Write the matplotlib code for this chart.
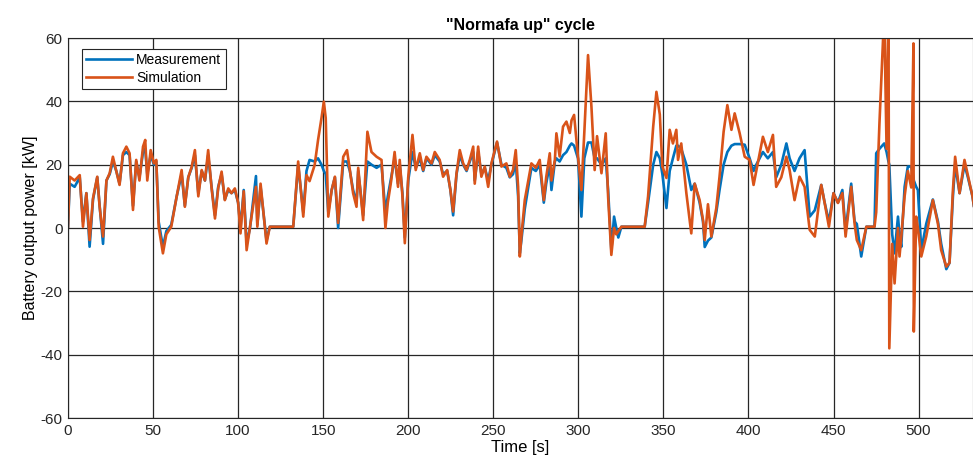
import numpy as np
import matplotlib.pyplot as plt

plt.rcParams['font.family'] = ['Liberation Sans', 'DejaVu Sans']
plt.rcParams['axes.unicode_minus'] = False

# time [s] and battery output power [kW]
time_s = [0, 1, 3.9, 6.9, 8.8, 10.8, 12.7, 14.7, 17.2, 18.6,
          20.6, 22.6, 24.5, 26.4, 28.4, 30.3, 32.3, 34.3, 36.2, 38.2,
          40.1, 42, 44.1, 45.4, 46.6, 48.6, 50.5, 51.9, 53.3, 55.8,
          57.8, 60.7, 63.9, 66.8, 68.7, 70.7, 72.7, 74.6, 76.6, 78.6,
          80.5, 82.4, 84.4, 86.4, 88.3, 90.3, 92.2, 94.2, 96.1, 98.1,
          100, 101.4, 103.3, 105, 107, 110.5, 111.3, 113.2, 116.7, 118.6,
          132.4, 135.3, 138.3, 140.2, 142, 145, 147, 149, 150.4, 151.5,
          153, 155, 156.9, 158.8, 161.8, 164, 165.7, 167.6, 169.6, 170.6,
          173.5, 176, 178.4, 181.4, 184.3, 186.6, 188, 190, 192, 194,
          195, 196.6, 198, 200, 202.5, 204.4, 206.8, 208.8, 210.7, 213.7,
          215.6, 218.5, 220.5, 222.9, 224.8, 226.4, 228.4, 230.3, 232.3, 234.3,
          236.2, 238.2, 239.1, 241.1, 243, 245, 247, 248.9, 252.2, 254.8,
          257.7, 259.7, 261.6, 263.2, 264.6, 265.6, 266.5, 268.5, 272.4, 275,
          277.3, 279.7, 281.1, 283.2, 284.2, 286.2, 287.1, 289, 291, 293,
          295, 296, 297.5, 299.8, 301.8, 303.5, 305.7, 307.7, 309.6, 311,
          313.6, 316.1, 317.5, 319.4, 321, 322.3, 323.5, 325.3, 339, 341,
          344, 345.9, 347.9, 349.4, 351.8, 353.7, 355.6, 357.6, 358.6, 360.5,
          363.5, 366.4, 368.4, 371.3, 373.3, 374.3, 376.2, 378.2, 381.1, 383,
          385.4, 387.6, 390, 391.9, 394.8, 397.8, 400.7, 403, 404.6, 408.5,
          411.4, 414.4, 416.3, 419.3, 422.3, 424.2, 427.1, 430, 433, 436,
          439, 442.8, 444.8, 447.3, 450, 452.6, 455.2, 457.1, 460.4, 462.4,
          463.7, 466.3, 469.3, 474.1, 475.1, 477, 479.8, 481.2, 482.3, 482.8,
          484.5, 485.9, 487.9, 488.8, 489.8, 491.8, 493.7, 495.7, 497, 497.2,
          498.6, 499.6, 501.6, 504.5, 508.4, 511.4, 513.3, 516.3, 518.2, 520.2,
          521.5, 524.1, 527, 529, 531.7, 532.5]

simulation = [0.4, 16.2, 15, 16.7, 0.4, 11, -3.8, 9.4, 16.2, 6.7,
              -2.7, 15, 17.3, 22.5, 18, 13.6, 23.6, 25.7, 23.6, 5.7,
              21.5, 15, 25.7, 27.8, 15, 24.6, 20.4, 21.5, 0.4, -8,
              -2, 0.4, 10, 18.3, 6.7, 16, 19.3, 24.6, 10, 18.3,
              15, 24.6, 12.6, 3, 12.6, 17.8, 8.8, 12.5, 11, 12.5,
              8, -1.7, 11.6, -7, 0.4, 13, 0.4, 14, -4.9, 0.4,
              0.4, 21, 3.6, 16.7, 14.8, 19.9, 27.8, 34.7, 39.9, 34.7,
              3.6, 12, 16.2, 1.6, 22.5, 24.6, 18.3, 11, 6.7, 19,
              2.5, 30.4, 24, 22.5, 21.5, 0, 8, 15, 24, 13,
              21.5, 10, -4.8, 16, 29.4, 18.3, 23.6, 18.3, 22.5, 20.4,
              24, 21.5, 16.2, 18.3, 12, 5.2, 17.3, 24.6, 20.4, 18.3,
              21.5, 25.7, 14, 25.7, 16.2, 19.4, 13, 20.4, 27.3, 19.4,
              20.4, 16.2, 18.3, 24.6, 13, -9, -2.7, 8.8, 20.4, 19,
              21.5, 8.8, 16, 23.6, 15, 21.5, 29.9, 22.6, 32, 33.6,
              30, 34, 35.7, 22.5, 12, 30, 54.6, 38.3, 18.3, 29,
              17.3, 29.9, 9.9, -8.5, 0, -2, -1, 0.4, 0.4, 10,
              32, 43, 35.8, 19.4, 15.8, 31, 26.7, 31, 21.5, 26.7,
              11, -1.7, 14, 8.8, 2.5, -3.8, 7.5, -2.7, 6.3, 16.2,
              30.4, 38.8, 31, 36.2, 30, 22.5, 21.5, 13.6, 18, 28.8,
              24, 29.4, 13, 16, 22.5, 18.3, 8.8, 16.2, 13, -0.6,
              -2.7, 13.6, 7.9, 0.4, 11, 7.9, 11, -2.7, 13, 1.3,
              -3.8, -7, 0.4, 0.4, 5, 33, 68, 25, 72, -38,
              -5, -17.5, 0, -9, -3, 10, 18, 12.8, 58.3, -32.7,
              3.6, 0, -9, -2.7, 8.8, 1.3, -7, -12.2, -11, 12,
              22.5, 11, 21.5, 16.6, 10, 7]

measurement = [0.4, 14, 13, 16, 2, 11, -5.9, 9, 16, 7,
               -5, 15, 17, 21, 18, 14, 23, 24, 23, 7,
               21, 16, 24, 25, 17, 23, 20, 21, 2, -6,
               -1, 1, 10, 17, 7, 16, 19, 23, 11, 18,
               15, 23, 13, 4, 13, 17, 9, 12, 11, 12,
               8, 0, 12, -5, 0, 16.4, 1, 13, -4, 0.4,
               0.4, 20, 5, 18, 21.5, 21, 22, 20, 18, 17,
               5, 12, 16, 0, 21, 21, 18, 12, 8, 18,
               4, 21, 20, 19, 20, 5, 10, 16, 22, 14,
               20, 11, -3, 15, 24, 19, 22, 18, 22, 20,
               23, 21, 17, 18, 12, 4, 17, 23, 20, 18,
               21, 24, 15, 24, 17, 19, 15, 20, 27, 20,
               19, 16, 17, 21, 10, -8, -4, 6, 19, 18,
               20, 8, 14, 20, 12, 21, 22, 21, 23, 24,
               26, 26.7, 26, 22, 3.6, 22, 27, 27, 22, 22,
               20, 22, 12, -7, 3.6, 0, -3, 0.4, 0.4, 8,
               20, 24, 22, 17, 6.3, 18, 22, 26, 26, 25,
               20, 12, 14, 8, 2, -6, -4, -3, 5, 12,
               20, 24, 26, 26.5, 26.5, 26.3, 22, 18, 20, 24,
               22, 24, 16, 20, 26.7, 22, 18, 22, 24.6, 3.6,
               5.6, 13.6, 8, 2, 11, 8, 12, -1, 14, 2,
               1.3, -9, 0.4, 0.4, 23.6, 25, 26.7, 24, 21, 20,
               -2, -8, 3.6, -2, -6, 13, 19.4, 19.4, 16, 15,
               13, 12, -7, 1.3, 9, 2, -5, -13, -11, 10,
               20, 11, 20, 16, 10, 7]

fig = plt.figure(figsize=(9.73, 4.66), dpi=100)
ax = fig.add_axes([68 / 973, 48 / 466, 905 / 973, 380 / 466])

ax.plot(time_s, measurement, color='#0072BD', lw=1.9, label='Measurement')
ax.plot(time_s, simulation, color='#D95319', lw=1.9, label='Simulation')

ax.set_xlim(0, 532)
ax.set_ylim(-60, 60)
ax.set_xticks(np.arange(0, 501, 50))
ax.set_yticks(np.arange(-60, 61, 20))
ax.grid(True, color='#262626', lw=0.9)
ax.set_axisbelow(True)
ax.tick_params(labelsize=11, colors='#262626', length=0, pad=4)
for s in ax.spines.values():
    s.set_color('#262626')

ax.set_title('"Normafa up" cycle', fontsize=11.5, fontweight='bold', pad=6)
ax.set_xlabel('Time [s]', fontsize=12, labelpad=2)
ax.set_ylabel('Battery output power [kW]', fontsize=11.5, labelpad=2)

leg = ax.legend(loc='upper left', bbox_to_anchor=(0.008, 0.99), fontsize=10,
                fancybox=False, framealpha=1, edgecolor='#262626',
                handlelength=3.3, borderpad=0.3, labelspacing=0.3, handletextpad=0.3)
leg.get_frame().set_linewidth(0.8)

plt.savefig('out.png', dpi=100)
